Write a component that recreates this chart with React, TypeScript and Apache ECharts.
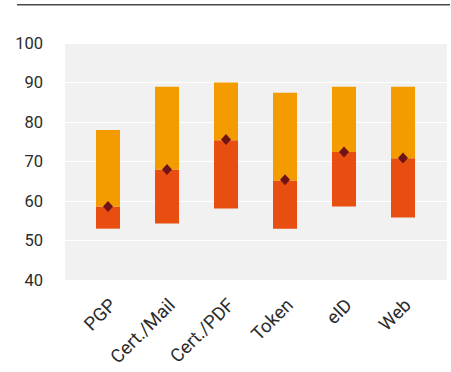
import React, { useEffect, useRef } from "react";
import * as echarts from "echarts";

// Score ranges per signature method
const categories = ["PGP", "Cert./Mail", "Cert./PDF", "Token", "eID", "Web"];
const minValues = [53.0, 54.3, 58.1, 53.0, 58.6, 55.8];
const midValues = [58.6, 68.0, 75.4, 65.2, 72.4, 70.8];
const maxValues = [78.0, 88.9, 90.0, 87.4, 88.9, 88.9];
const markValues = [58.6, 68.0, 75.6, 65.4, 72.4, 70.9];

const W = 451;
const H = 372;
const FONT = "Roboto, 'Noto Sans', sans-serif";

export default function App() {
  const ref = useRef<HTMLDivElement>(null);

  useEffect(() => {
    if (!ref.current) return;
    const chart = echarts.init(ref.current, undefined, { renderer: "svg" });

    const lower = midValues.map((v, i) => +(v - minValues[i]).toFixed(2));
    const upper = maxValues.map((v, i) => +(v - midValues[i]).toFixed(2));

    chart.setOption({
      animation: false,
      backgroundColor: "#ffffff",
      graphic: {
        elements: [
          {
            type: "rect",
            left: 17,
            top: 4,
            shape: { x: 0, y: 0, width: 433, height: 1.5 },
            style: { fill: "#4a4a4a" },
            z: 100,
          },
        ],
      },
      grid: [
        {
          left: 65,
          right: 4,
          top: 43,
          bottom: 92,
          show: true,
          backgroundColor: "#f1f1f1",
          borderWidth: 0,
        },
        { left: 78.5, right: 18.5, top: 43, bottom: 92 },
      ],
      xAxis: [
        { type: "value", gridIndex: 0, show: false, min: 0, max: 1 },
        {
          type: "category",
          gridIndex: 1,
          data: categories,
          axisLine: { show: false },
          axisTick: { show: false },
          axisLabel: {
            rotate: 45,
            interval: 0,
            margin: 27,
            padding: [0, -7, 0, 0],
            color: "#2b2b2b",
            fontSize: 18.5,
            fontFamily: FONT,
          },
        },
      ],
      yAxis: [
        {
          type: "value",
          gridIndex: 0,
          min: 40,
          max: 100,
          interval: 10,
          axisLine: { show: false },
          axisTick: { show: false },
          axisLabel: {
            margin: 22,
            color: "#2b2b2b",
            fontSize: 16.5,
            fontFamily: FONT,
            showMinLabel: true,
            showMaxLabel: true,
          },
          splitLine: {
            show: true,
            lineStyle: { color: "#ffffff", width: 1.2 },
          },
        },
        {
          type: "value",
          gridIndex: 1,
          min: 40,
          max: 100,
          interval: 10,
          show: false,
          splitLine: { show: false },
        },
      ],
      series: [
        {
          type: "bar",
          xAxisIndex: 1,
          yAxisIndex: 1,
          stack: "range",
          barWidth: 24,
          data: minValues,
          itemStyle: { color: "transparent" },
          silent: true,
        },
        {
          type: "bar",
          xAxisIndex: 1,
          yAxisIndex: 1,
          stack: "range",
          barWidth: 24,
          data: lower,
          itemStyle: { color: "#e84e10" },
        },
        {
          type: "bar",
          xAxisIndex: 1,
          yAxisIndex: 1,
          stack: "range",
          barWidth: 24,
          data: upper,
          itemStyle: { color: "#f49b00" },
        },
        {
          type: "scatter",
          xAxisIndex: 1,
          yAxisIndex: 1,
          symbol: "diamond",
          symbolSize: [10, 11],
          data: markValues,
          itemStyle: { color: "#6e1418", opacity: 1 },
          z: 5,
        },
      ],
    });

    return () => chart.dispose();
  }, []);

  return (
    <div style={{ position: "fixed", left: 0, top: 0 }}>
      <div ref={ref} style={{ width: W, height: H }} />
    </div>
  );
}
